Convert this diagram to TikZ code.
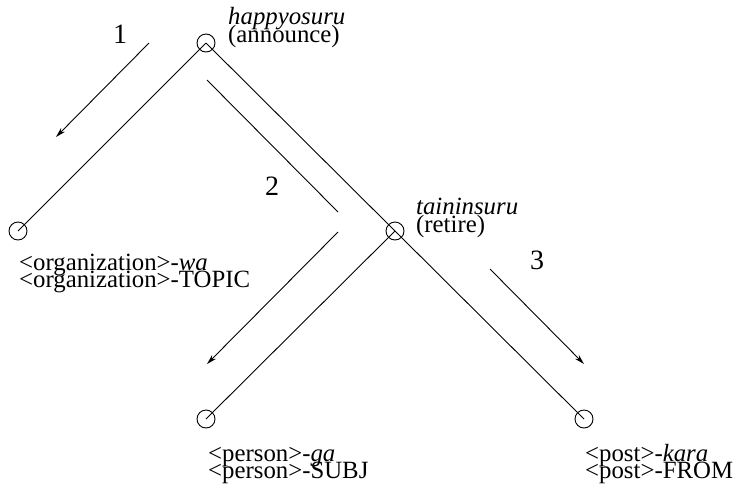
\documentclass[tikz,border=0pt]{standalone}
\usepackage{fontspec}
\setmainfont{Liberation Serif}
\usetikzlibrary{arrows.meta}
\begin{document}
\begin{tikzpicture}[x=1pt,y=-1pt,
  vert/.style={circle,draw,line width=0.9pt,minimum size=18pt,inner sep=0pt},
  edge/.style={line width=0.9pt},
  flow/.style={line width=0.9pt,-{Stealth[length=10pt,width=5.5pt]}},
  lab/.style={anchor=base west,inner sep=0pt,font=\fontsize{24.8}{18}\selectfont},
  num/.style={anchor=base,inner sep=0pt,font=\fontsize{28}{28}\selectfont}]
\useasboundingbox (0,0) rectangle (739,485);
% vertices
\node[vert] (top) at (206,43) {};
\node[vert] (org) at (18,231) {};
\node[vert] (ret) at (395,231) {};
\node[vert] (per) at (206,419) {};
\node[vert] (pos) at (584,419) {};
% edges
\draw[edge] (top.center) -- (org.center);
\draw[edge] (top.center) -- (ret.center);
\draw[edge] (ret.center) -- (per.center);
\draw[edge] (ret.center) -- (pos.center);
% labels
\node[lab] (t1) at (228,24) {\textit{happyosuru}};
\node[lab] (t2) at (228,42) {(announce)};
\node[lab] (r1) at (416,214.5) {\textit{taininsuru}};
\node[lab] (r2) at (416,232) {(retire)};
\node[lab] (o1) at (19,270) {<organization>-\textit{wa}};
\node[lab] (o2) at (19,287) {<organization>-TOPIC};
\node[lab] (p1) at (208,461) {<person>-\textit{ga}};
\node[lab] (p2) at (208,478) {<person>-SUBJ};
\node[lab] (q1) at (585,461) {<post>-\textit{kara}};
\node[lab] (q2) at (585,478) {<post>-FROM};
% flow arrows
\coordinate (a1s) at (149,43);
\coordinate (a1e) at (56,137);
\coordinate (a2s) at (207,80);
\coordinate (a2m) at (338,212);
\coordinate (a2n) at (338,232);
\coordinate (a2e) at (207,364);
\coordinate (a3s) at (490,269);
\coordinate (a3e) at (584,364);
\draw[flow] (a1s) -- (a1e);
\draw[edge] (a2s) -- (a2m);
\draw[flow] (a2n) -- (a2e);
\draw[flow] (a3s) -- (a3e);
\node[num] (n1) at (120,43) {1};
\node[num] (n2) at (272,195) {2};
\node[num] (n3) at (537,269) {3};
\end{tikzpicture}
\end{document}
